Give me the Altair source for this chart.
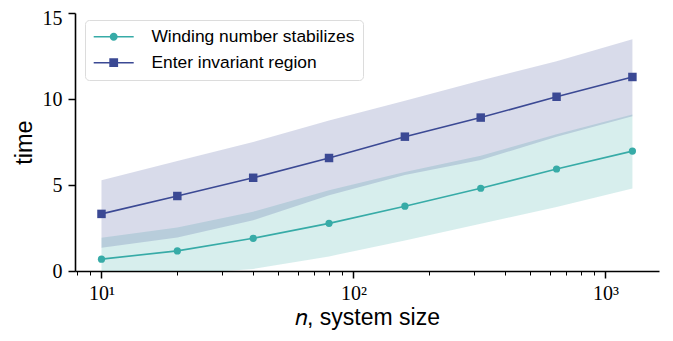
import altair as alt
import pandas as pd

# ---- data ----
n_values = [10, 20, 40, 80, 160, 320, 640, 1280]

wind_mean = [0.69, 1.17, 1.90, 2.77, 3.77, 4.81, 5.93, 6.97]
wind_lo = [-0.6, -0.2, 0.12, 0.85, 1.78, 2.75, 3.72, 4.80]
wind_hi = [1.93, 2.53, 3.45, 4.70, 5.75, 6.70, 7.95, 9.10]

enter_mean = [3.32, 4.36, 5.42, 6.57, 7.81, 8.92, 10.13, 11.28]
enter_lo = [1.35, 1.95, 2.95, 4.40, 5.58, 6.45, 7.80, 9.00]
enter_hi = [5.28, 6.40, 7.50, 8.75, 9.90, 11.07, 12.20, 13.47]

series_names = ["Winding number stabilizes", "Enter invariant region"]
series_colors = ["#37aba7", "#3b4994"]

x_major = [10, 100, 1000]
x_ticks = [8, 9, 10, 20, 30, 40, 50, 60, 70, 80, 90, 100, 200, 300, 400, 500,
           600, 700, 800, 900, 1000]
y_ticks = [0, 5, 10, 15]

# ---- table ----
wind = pd.DataFrame({"n": n_values, "mean": wind_mean, "lo": wind_lo, "hi": wind_hi,
                     "series": series_names[0]})
enter = pd.DataFrame({"n": n_values, "mean": enter_mean, "lo": enter_lo, "hi": enter_hi,
                      "series": series_names[1]})
df = pd.concat([wind, enter], ignore_index=True)

teal, navy = series_colors

major_test = " || ".join(f"datum.value == {v}" for v in x_major)
x_axis = alt.Axis(
    title="𝑛, system size",
    titleFont="Liberation Sans", titleFontSize=23, titleFontWeight="normal",
    titleColor="black", titlePadding=3,
    values=x_ticks,
    labelExpr="datum.value == 10 ? '10¹' : datum.value == 100 ? '10²' : datum.value == 1000 ? '10³' : ''",
    labelFont="Liberation Serif", labelFontSize=20, labelColor="black",
    labelPadding=5, labelOverlap=False, labelFlush=False,
    tickSize={"condition": {"test": major_test, "value": 7}, "value": 4},
    tickWidth={"condition": {"test": major_test, "value": 1.5}, "value": 1},
    tickColor="black", domainColor="black", domainWidth=1.6, grid=False,
)
y_axis = alt.Axis(
    title="time", titleFont="Liberation Sans", titleFontSize=23.5,
    titleFontWeight="normal", titleColor="black", titlePadding=6,
    values=y_ticks, labelFont="Liberation Serif", labelFontSize=20,
    labelColor="black", labelPadding=6, tickSize=7, tickWidth=1.5,
    labelOffset={"condition": {"test": "datum.value == 15", "value": 5}, "value": 0},
    tickColor="black", domainColor="black", domainWidth=1.6, grid=False,
)
x_scale = alt.Scale(type="log", domain=[7.85, 1632], nice=False)
y_scale = alt.Scale(domain=[0, 15], nice=False, zero=False)

x_enc = alt.X("n:Q", scale=x_scale, axis=x_axis)

def band(name, color):
    return alt.Chart(df).transform_filter(alt.datum.series == name).mark_area(
        color=color, opacity=0.2, clip=True
    ).encode(
        x=x_enc,
        y=alt.Y("lo:Q", scale=y_scale, axis=y_axis),
        y2="hi:Q",
    )

def line(name, color):
    return alt.Chart(df).transform_filter(alt.datum.series == name).mark_line(
        color=color, strokeWidth=1.6
    ).encode(x=x_enc, y=alt.Y("mean:Q", scale=y_scale, axis=y_axis))

pts_wind = alt.Chart(df).transform_filter(alt.datum.series == series_names[0]).mark_circle(
    color=teal, size=52, opacity=1
).encode(x=x_enc, y=alt.Y("mean:Q", scale=y_scale, axis=y_axis))

pts_enter = alt.Chart(df).transform_filter(alt.datum.series == series_names[1]).mark_square(
    color=navy, size=72, opacity=1
).encode(x=x_enc, y=alt.Y("mean:Q", scale=y_scale, axis=y_axis))

# legend symbols: a line with a marker on it
line_path = "M-2.5,-0.1L2.5,-0.1L2.5,0.1L-2.5,0.1Z"
circle_path = line_path + "M0.5,0A0.5,0.5,0,1,1,-0.5,0A0.5,0.5,0,1,1,0.5,0Z"
square_path = line_path + "M-0.55,-0.55L0.55,-0.55L0.55,0.55L-0.55,0.55Z"

legend = alt.Legend(
    title=None, orient="none", legendX=10, legendY=7,
    labelFont="Liberation Sans", labelFontSize=17.4, labelColor="black",
    labelLimit=400,
    symbolSize=256, symbolOffset=12, labelOffset=29, rowPadding=7,
    padding=8, fillColor="white", strokeColor="#dcdcdc", cornerRadius=4,
    symbolStrokeWidth=0, symbolOpacity=1,
)
legend_layer = alt.Chart(df).transform_filter("false").mark_point(
    filled=True, size=256, opacity=1
).encode(
    color=alt.Color("series:N", scale=alt.Scale(domain=series_names, range=series_colors),
                    legend=legend),
    shape=alt.Shape("series:N", scale=alt.Scale(domain=series_names,
                                                range=[circle_path, square_path]),
                    legend=legend),
)

chart = alt.layer(
    band(series_names[0], teal),
    band(series_names[1], navy),
    line(series_names[0], teal),
    line(series_names[1], navy),
    pts_wind,
    pts_enter,
    legend_layer,
).properties(
    width=584, height=258,
    autosize=alt.AutoSizeParams(type="none"),
    padding={"left": 67, "top": 5, "right": 6, "bottom": 60},
).configure_view(stroke=None)

chart.save("out.html", embed_options={"renderer": "svg", "actions": False})
